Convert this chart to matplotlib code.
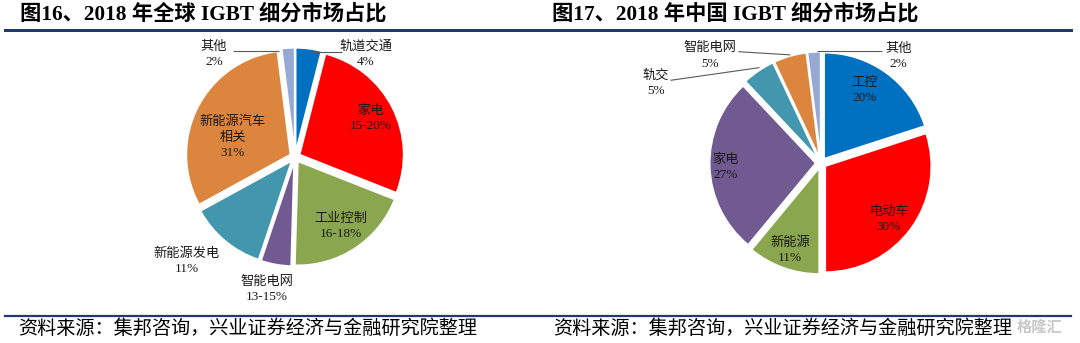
import matplotlib
matplotlib.use("Agg")
import matplotlib.pyplot as plt
from matplotlib.lines import Line2D

# ---------------- data ----------------
global_names = ["轨道交通", "家电", "工业控制", "智能电网", "新能源发电", "新能源汽车\n相关", "其他"]
global_values = [4.0, 27.0, 19.5, 4.7, 11.9, 31.0, 2.0]
global_pct_labels = ["4%", "15-20%", "16-18%", "13-15%", "11%", "31%", "2%"]

china_names = ["工控", "电动车", "新能源", "家电", "轨交", "智能电网", "其他"]
china_values = [20, 30, 11, 27, 5, 5, 2]
china_pct_labels = ["20%", "30%", "11%", "27%", "5%", "5%", "2%"]

title_left = "图16、2018 年全球 IGBT 细分市场占比"
title_right = "图17、2018 年中国 IGBT 细分市场占比"
source_text = "资料来源：集邦咨询，兴业证券经济与金融研究院整理"

# ---------------- style ----------------
global_colors = ["#0070C0", "#FF0000", "#8AA64E", "#705A91", "#4297AE", "#DC853E", "#96A9D4"]
china_colors = ["#0070C0", "#FF0000", "#8AA64E", "#705A91", "#4297AE", "#DC853E", "#96A9D4"]
NAVY = "#1F3A6E"
FAM = ["Liberation Serif", "Noto Sans CJK SC"]
LBL = 9.5

W, H = 1080, 343
fig = plt.figure(figsize=(W / 100, H / 100), dpi=100)
fig.patch.set_facecolor("white")


def px(x, y):
    return x / W, (H - y) / H


def pie_axes(cx, cy, r, lim=1.7):
    fx, fy = px(cx - lim * r, cy + lim * r)
    ax = fig.add_axes([fx, fy, 2 * lim * r / W, 2 * lim * r / H])
    ax.axis("off")
    return ax, lim


# label positions (in pie radius units) and leader lines
global_label_pos = [(0.68, 0.99), (0.73, 0.375), (0.44, -0.67), (-0.27, -1.27),
                    (-1.04, -1.00), (-0.60, 0.19), (-0.78, 0.99)]
china_label_pos = [(0.415, 0.68), (0.64, -0.53), (-0.29, -0.82), (-0.90, -0.04),
                   (-1.56, 0.75), (-1.05, 1.01), (0.73, 1.01)]
global_leaders = [((0.16, 0.45), (1.01, 1.01)), ((-0.60, -0.15), (1.02, 1.02))]
china_leaders = [((-0.78, -0.29), (1.05, 1.02)), ((-0.04, 0.58), (1.06, 1.06)),
                 ((-1.42, -0.58), (0.78, 0.90))]


def draw_pie(axlim, values, colors, names, pcts, pos, leaders):
    ax, lim = axlim
    ax.pie(values, colors=colors, startangle=90, counterclock=False,
           explode=[0.05] * len(values), radius=1.0,
           wedgeprops=dict(edgecolor="white", linewidth=1.2))
    ax.set_xlim(-lim, lim)
    ax.set_ylim(-lim, lim)
    for (x, y), n, p in zip(pos, names, pcts):
        ax.text(x, y, n + "\n" + p, ha="center", va="center", fontsize=LBL,
                family=FAM, linespacing=1.35, color="#1a1a1a")
    for xs, ys in leaders:
        ax.plot(xs, ys, color="#595959", lw=0.8, solid_capstyle="butt")


draw_pie(pie_axes(295, 157, 104), global_values, global_colors, global_names,
         global_pct_labels, global_label_pos, global_leaders)
draw_pie(pie_axes(821, 163, 106), china_values, china_colors, china_names,
         china_pct_labels, china_label_pos, china_leaders)

# titles
for x, t in [(20, title_left), (552, title_right)]:
    fx, fy = px(x, 14)
    fig.text(fx, fy, t, fontsize=15.3, fontweight="bold", family=FAM,
             ha="left", va="center", color="#000000")

# rules
for y, lw in [(29.5, 3.0), (315.5, 2.2)]:
    fx0, fy = px(5, y)
    fx1, _ = px(1071, y)
    fig.add_artist(Line2D([fx0, fx1], [fy, fy], color=NAVY, lw=lw * 0.72,
                          transform=fig.transFigure))

# sources
for x in [18, 553]:
    fx, fy = px(x, 329)
    fig.text(fx, fy, source_text, fontsize=13.8, family=FAM,
             ha="left", va="center", color="#000000")

# watermark
fx, fy = px(1040, 328)
fig.text(fx, fy, "格隆汇", fontsize=11, family=FAM, ha="center", va="center",
         color="#C8C8C8", fontweight="bold")

fig.savefig("out.png", dpi=100, facecolor="white")
